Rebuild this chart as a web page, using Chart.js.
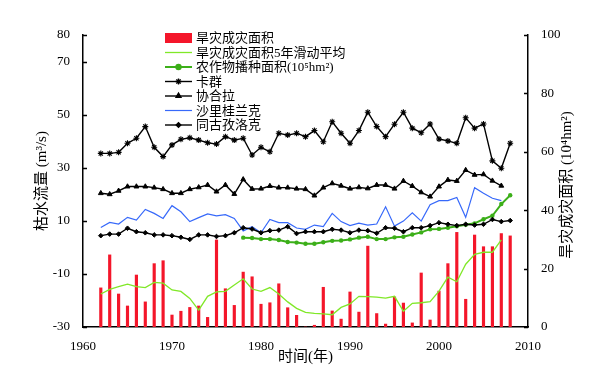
<!DOCTYPE html>
<html>
<head>
<meta charset="utf-8">
<script src="https://cdn.jsdelivr.net/npm/chart.js@4.4.0/dist/chart.umd.min.js"></script>
<style>
    html, body { margin: 0; padding: 0; background: #fff; }
</style>
</head>
<body>
<canvas id="droughtChart" width="596" height="383"></canvas>
<script>
// years of record
const years = [1962, 1963, 1964, 1965, 1966, 1967, 1968, 1969, 1970, 1971,
    1972, 1973, 1974, 1975, 1976, 1977, 1978, 1979, 1980, 1981,
    1982, 1983, 1984, 1985, 1986, 1987, 1988, 1989, 1990, 1991,
    1992, 1993, 1994, 1995, 1996, 1997, 1998, 1999, 2000, 2001,
    2002, 2003, 2004, 2005, 2006, 2007, 2008];
const cropYears = [1978, 1979, 1980, 1981, 1982, 1983, 1984, 1985, 1986, 1987,
    1988, 1989, 1990, 1991, 1992, 1993, 1994, 1995, 1996, 1997,
    1998, 1999, 2000, 2001, 2002, 2003, 2004, 2005, 2006, 2007, 2008];

// right axis (10^4 hm2)
const droughtArea = [13.4, 24.7, 11.3, 7.2, 17.8, 8.6, 21.7, 22.7, 4.1, 5.4,
    6.7, 7.2, 3.3, 29.8, 13.1, 7.4, 18.8, 17.2, 7.8, 8.3,
    14.8, 6.6, 4.0, 0, 0.6, 13.6, 5.5, 2.7, 12.0, 5.1,
    27.7, 4.6, 1.0, 10.3, 8.2, 1.4, 18.5, 2.4, 12.3, 21.7,
    32.4, 9.5, 31.5, 27.5, 27.5, 32.0, 31.2];
const droughtArea5yr = [11.3, 12.9, 13.8, 14.7, 13.8, 13.5, 15.3, 15.0, 12.7, 12.2,
    9.8, 5.8, 10.5, 12.0, 12.2, 14.4, 16.5, 13.0, 12.2, 13.5,
    11.3, 8.6, 6.4, 5.0, 4.7, 4.5, 4.2, 6.7, 7.9, 10.5,
    10.4, 10.2, 9.9, 10.5, 5.4, 8.1, 8.3, 8.7, 12.3, 17.1,
    15.5, 21.5, 24.9, 25.6, 25.6, 29.8];
const cropArea = [30.6, 30.5, 30.1, 30.1, 29.8, 29.1, 28.9, 28.5, 28.5, 29.0,
    29.5, 29.6, 30.0, 30.6, 30.9, 30.1, 30.1, 30.7, 30.9, 31.7,
    32.4, 33.5, 33.6, 34.0, 34.5, 35.0, 35.5, 36.9, 38.1, 42.1, 45.1];

// left axis, low flow (m3/s)
const kaqun = [35.4, 35.4, 35.8, 39.2, 41.1, 45.5, 37.7, 34.2, 38.6, 40.7,
    41.3, 40.4, 39.4, 38.9, 41.7, 40.4, 41.1, 34.8, 37.7, 36.0,
    43.0, 42.3, 43.0, 41.7, 44.0, 39.8, 47.3, 43.0, 39.2, 44.0,
    50.9, 45.5, 41.7, 46.4, 50.9, 44.9, 43.2, 46.5, 40.8, 40.1,
    39.2, 48.8, 44.9, 46.5, 32.6, 29.8, 39.2];
const xiehela = [20.4, 20.0, 21.3, 22.9, 22.9, 22.9, 22.5, 21.9, 20.4, 20.4,
    21.9, 22.6, 23.5, 21.0, 23.5, 20.1, 25.6, 22.0, 22.1, 23.1,
    22.5, 22.5, 22.1, 21.9, 19.5, 22.5, 24.1, 23.2, 22.1, 22.6,
    22.2, 23.5, 23.5, 22.1, 25.0, 23.1, 20.7, 19.1, 22.9, 25.4,
    25.0, 29.1, 27.3, 27.5, 25.1, 23.2];
const shaliguilanke = [7.5, 9.4, 8.8, 11.3, 10.3, 14.3, 12.8, 10.9, 15.7, 13.4,
    9.7, 11.2, 12.6, 11.9, 12.3, 10.9, 6.2, 7.8, 5.5, 10.5,
    9.3, 9.3, 7.3, 6.8, 8.4, 7.8, 12.8, 9.7, 8.2, 9.1,
    8.4, 8.8, 15.3, 8.0, 9.9, 13.0, 9.9, 16.1, 17.6, 17.6,
    18.8, 11.3, 22.5, 20.4, 18.5, 17.6];
const tongguziluoke = [4.4, 5.0, 5.0, 7.2, 5.9, 5.5, 4.7, 4.7, 4.4, 3.8,
    3.0, 4.7, 4.7, 4.1, 4.4, 5.5, 7.4, 6.9, 5.5, 6.3,
    6.5, 7.8, 5.2, 5.9, 5.9, 5.9, 6.8, 6.5, 5.5, 6.5,
    6.3, 5.3, 7.4, 7.2, 5.9, 7.4, 7.4, 8.2, 9.3, 8.7,
    8.2, 8.7, 8.4, 8.7, 10.5, 9.7, 10.1];

const xTicks = [1960, 1970, 1980, 1990, 2000, 2010];
const leftTicks = [80, 70, 50, 30, 10, -10, -30];
const rightTicks = [0, 20, 40, 60, 80, 100];

const FONT = '"Liberation Serif", "Noto Sans CJK SC", serif';

function toPoints(xs, ys) {
    return ys.map(function (v, i) { return { x: xs[i], y: v }; });
}

/* small legend drawn inside the plot, top left */
const insideLegend = {
    id: 'insideLegend',
    afterDraw: function (chart) {
        const ctx = chart.ctx;
        const x0 = 165, x1 = 192, textX = 196;
        ctx.save();
        ctx.font = '13px ' + FONT;
        ctx.textBaseline = 'middle';
        ctx.fillStyle = '#000';
        chart.data.datasets.forEach(function (ds, i) {
            const y = 38 + i * 14.5;
            if (ds.type === 'bar') {
                ctx.fillStyle = ds.backgroundColor;
                ctx.fillRect(x0, y - 5, x1 - x0, 10);
            } else {
                ctx.strokeStyle = ds.borderColor;
                ctx.lineWidth = ds.borderWidth;
                ctx.beginPath();
                ctx.moveTo(x0, y);
                ctx.lineTo(x1, y);
                ctx.stroke();
                if (ds.pointRadius > 0) {
                    ctx.fillStyle = ds.pointBackgroundColor || ds.borderColor;
                    Chart.helpers.drawPoint(ctx, {
                        pointStyle: ds.pointStyle,
                        radius: ds.pointRadius,
                        borderWidth: 1,
                        rotation: 0
                    }, (x0 + x1) / 2, y);
                }
            }
            ctx.fillStyle = '#000';
            ctx.fillText(ds.label, textX, y + 1);
        });
        ctx.restore();
    }
};

/* inward tick marks and the right-hand title (reads bottom to top) */
const axisExtras = {
    id: 'axisExtras',
    afterDraw: function (chart) {
        const ctx = chart.ctx;
        const area = chart.chartArea;
        const yL = chart.scales.yL;
        const yR = chart.scales.yR;
        ctx.save();
        ctx.strokeStyle = '#000';
        ctx.lineWidth = 1.5;
        ctx.beginPath();
        yL.ticks.forEach(function (t) {
            const y = Math.round(yL.getPixelForValue(t.value)) + 0.5;
            ctx.moveTo(area.left, y);
            ctx.lineTo(area.left + 4, y);
        });
        yR.ticks.forEach(function (t) {
            const y = Math.round(yR.getPixelForValue(t.value)) + 0.5;
            ctx.moveTo(area.right, y);
            ctx.lineTo(area.right - 4, y);
        });
        ctx.stroke();

        ctx.translate(567, (area.top + area.bottom) / 2 + 4);
        ctx.rotate(-Math.PI / 2);
        ctx.font = '15px ' + FONT;
        ctx.fillStyle = '#000';
        ctx.textAlign = 'center';
        ctx.textBaseline = 'middle';
        ctx.fillText('旱灾成灾面积 (10⁴hm²)', 0, 0);
        ctx.restore();
    }
};

const ctx = document.getElementById('droughtChart').getContext('2d');
const myChart = new Chart(ctx, {
    type: 'bar',
    data: {
        datasets: [{
            type: 'bar',
            label: '旱灾成灾面积',
            data: toPoints(years, droughtArea),
            yAxisID: 'yR',
            backgroundColor: 'rgb(244,22,42)',
            barThickness: 2.5,
            order: 10
        }, {
            type: 'line',
            label: '旱灾成灾面积5年滑动平均',
            data: toPoints(years, droughtArea5yr),
            yAxisID: 'yR',
            borderColor: 'rgb(128,232,40)',
            borderWidth: 1.3,
            pointRadius: 0,
            order: 6
        }, {
            type: 'line',
            label: '农作物播种面积(10⁵hm²)',
            data: toPoints(cropYears, cropArea),
            yAxisID: 'yR',
            borderColor: 'rgb(60,175,25)',
            backgroundColor: 'rgb(60,175,25)',
            pointBackgroundColor: 'rgb(60,175,25)',
            borderWidth: 2,
            pointStyle: 'circle',
            pointRadius: 2.2,
            pointBorderWidth: 0,
            order: 5
        }, {
            type: 'line',
            label: '卡群',
            data: toPoints(years, kaqun),
            yAxisID: 'yL',
            borderColor: '#000',
            pointBackgroundColor: '#000',
            borderWidth: 1.4,
            pointStyle: 'star',
            pointRadius: 3,
            pointBorderWidth: 1.1,
            order: 1
        }, {
            type: 'line',
            label: '协合拉',
            data: toPoints(years, xiehela),
            yAxisID: 'yL',
            borderColor: '#000',
            pointBackgroundColor: '#000',
            borderWidth: 1.4,
            pointStyle: 'triangle',
            pointRadius: 2.8,
            pointBorderWidth: 1,
            order: 2
        }, {
            type: 'line',
            label: '沙里桂兰克',
            data: toPoints(years, shaliguilanke),
            yAxisID: 'yL',
            borderColor: 'rgb(55,105,250)',
            borderWidth: 1.2,
            pointRadius: 0,
            order: 3
        }, {
            type: 'line',
            label: '同古孜洛克',
            data: toPoints(years, tongguziluoke),
            yAxisID: 'yL',
            borderColor: '#000',
            pointBackgroundColor: '#000',
            borderWidth: 1.4,
            pointStyle: 'rectRot',
            pointRadius: 2.3,
            pointBorderWidth: 1,
            order: 2
        }]
    },
    options: {
        responsive: false,
        animation: false,
        devicePixelRatio: 1,
        layout: { padding: { top: 35, left: 0, right: 0, bottom: 0 } },
        plugins: {
            legend: { display: false },
            tooltip: { enabled: false }
        },
        scales: {
            x: {
                type: 'linear',
                min: 1960,
                max: 2010,
                offset: false,
                afterBuildTicks: function (scale) {
                    scale.ticks = xTicks.map(function (v) { return { value: v }; });
                },
                afterFit: function (scale) { scale.height = 56; },
                grid: { display: false, offset: false },
                border: { display: true, color: '#000', width: 1.5 },
                ticks: {
                    color: '#000',
                    font: { family: FONT, size: 13 },
                    padding: 4,
                    maxRotation: 0,
                    callback: function (v) { return String(v); }
                },
                title: {
                    display: true,
                    text: '时间(年)',
                    color: '#000',
                    font: { family: FONT, size: 15 },
                    padding: { top: 0, bottom: 17 }
                }
            },
            yL: {
                type: 'linear',
                position: 'left',
                min: -30,
                max: 80,
                afterBuildTicks: function (scale) {
                    scale.ticks = leftTicks.map(function (v) { return { value: v }; });
                },
                afterFit: function (scale) { scale.width = 83; },
                grid: { display: false },
                border: { display: true, color: '#000', width: 1.5 },
                ticks: {
                    color: '#000',
                    font: { family: FONT, size: 13 },
                    padding: 5,
                    callback: function (v) { return String(v); }
                },
                title: {
                    display: true,
                    text: '枯水流量 (m³/s)',
                    color: '#000',
                    font: { family: FONT, size: 15 },
                    padding: { top: 33, bottom: 0 }
                }
            },
            yR: {
                type: 'linear',
                position: 'right',
                min: 0,
                max: 100,
                afterBuildTicks: function (scale) {
                    scale.ticks = rightTicks.map(function (v) { return { value: v }; });
                },
                afterFit: function (scale) { scale.width = 68; },
                grid: { display: false },
                border: { display: true, color: '#000', width: 1.5 },
                ticks: {
                    color: '#000',
                    font: { family: FONT, size: 13 },
                    padding: 5,
                    callback: function (v) { return String(v); }
                }
            }
        }
    },
    plugins: [insideLegend, axisExtras]
});
</script>
</body>
</html>
